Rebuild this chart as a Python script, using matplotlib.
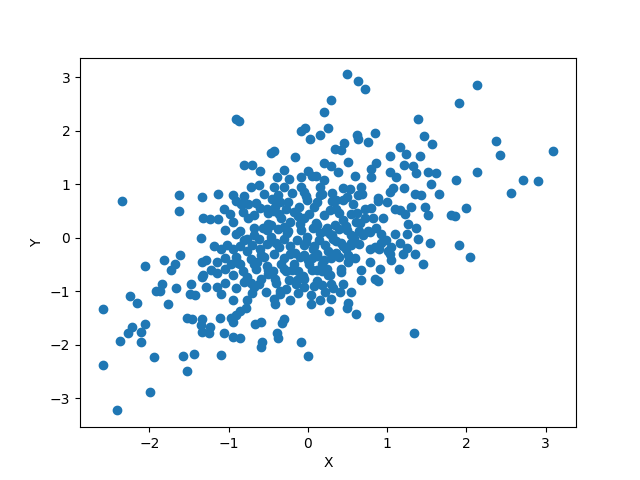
import matplotlib
matplotlib.use("Agg")
import matplotlib.pyplot as plt

# outer and mid-density points
x_outer = [
 0.49,0.63,0.72,0.29,1.39,1.47,1.57,1.16,1.24,1.04,1.41,0.85,0.76,0.62,0.63,0.46,0.34,0.42,0.51,0.25,
 0.86,0.80,1.22,1.33,1.04,1.11,1.37,1.52,1.62,0.29,0.38,0.59,0.80,
 -0.91,-0.87,-0.09,-0.04,0.03,0.16,0.20,-0.47,-0.43,-0.16,-0.80,-0.70,0.20,-0.39,-0.24,-0.09,0.05,0.10,0.20,
 2.14,1.91,2.38,2.43,3.10,2.14,1.87,2.72,2.91,2.56,2.00,1.86,1.91,2.05,
 -2.34,-1.63,-1.63,-1.34,-1.32,-1.35,-1.61,-1.81,-1.68,-1.73,-2.06,-1.33,-1.34,-1.84,-1.91,-1.86,-1.66,-1.48,-1.49,-1.42,-1.77,-2.24,-2.16,-2.59,
 -1.52,-1.46,-1.34,-1.35,-1.33,-2.22,-2.27,-2.11,-2.05,-2.37,-2.10,-1.94,-1.57,-1.43,-1.53,-2.59,-1.99,-2.41,
 -1.23,-1.25,-1.11,-0.97,-0.91,-0.85,-0.78,-0.94,-1.06,-0.94,-0.85,-0.66,-0.59,-0.58,-0.59,-0.30,-0.33,-0.39,-0.38,-0.09,0.00,-1.09,-0.41,0.04,
 0.27,0.49,0.61,0.90,1.34,
 0.89,1.04,1.08,1.22,1.35,1.43,1.65,1.56,1.30,1.48,1.52,1.27,1.37,1.39,1.54,1.35,1.46,1.15,1.05,1.01,0.91,0.85,0.89,0.67,0.54,0.41,0.44,0.29,0.32,0.29,0.51,
 0.42,0.51,0.54,0.78,0.78,0.61,0.72,0.82,0.95,0.92,0.99,1.10,1.16,1.05,1.20,1.04,0.92,1.10,1.16,1.23,0.72,0.63,0.53,0.44,0.67,0.57,0.35,0.34,0.28,0.35,
 0.42,0.54,0.29,0.67,0.78,0.51,0.42,0.25,1.81,
]
y_outer = [
 3.05,2.92,2.77,2.58,2.22,1.89,1.74,1.70,1.57,1.53,1.53,1.96,1.79,1.91,1.85,1.76,1.66,1.63,1.42,2.04,
 1.40,1.29,1.35,1.33,1.23,1.14,1.20,1.23,1.20,1.33,1.23,1.16,1.14,
 2.22,2.17,2.00,2.04,1.85,1.91,2.34,1.59,1.61,1.50,1.35,1.35,1.40,1.14,1.10,1.14,1.16,1.16,1.07,
 2.86,2.52,1.81,1.55,1.61,1.23,1.08,1.08,1.05,0.84,0.56,0.41,-0.13,-0.36,
 0.69,0.79,0.49,0.75,0.36,0.00,-0.32,-0.41,-0.50,-0.60,-0.54,-0.45,-0.73,-0.86,-0.99,-0.99,-0.95,-0.86,-1.05,-1.08,-1.25,-1.10,-1.23,-1.33,
 -1.50,-1.53,-1.53,-1.63,-1.76,-1.68,-1.79,-1.76,-1.61,-1.93,-1.96,-2.24,-2.22,-2.17,-2.49,-2.39,-2.88,-3.23,
 -1.68,-1.79,-1.50,-1.50,-1.44,-1.38,-1.31,-1.57,-1.79,-1.85,-1.87,-1.61,-1.57,-1.96,-2.04,-1.53,-1.59,-1.79,-1.87,-1.96,-2.21,-2.19,-1.25,-1.25,
 -1.38,-1.31,-1.42,-1.48,-1.79,
 0.69,0.86,0.92,0.92,0.82,0.80,0.82,1.01,0.58,0.58,0.43,0.26,0.17,-0.02,-0.11,-0.30,-0.49,-0.58,-0.41,-0.26,-0.58,-0.77,-0.82,-0.79,-1.01,-1.01,-0.86,-0.86,-0.95,-1.14,-1.23,
 -0.58,-0.32,-0.13,-0.21,0.11,0.30,0.36,0.36,0.36,0.06,-0.04,0.06,-0.11,-0.17,-0.30,-0.30,-0.11,0.54,0.52,0.45,0.54,0.80,0.90,0.92,0.95,0.62,0.54,0.24,0.06,-0.07,
 -0.11,-0.11,-0.39,-0.60,-0.45,-0.45,-0.64,-0.69,0.43,
]

# dense core points (estimated from the solid blob in the reference)
x_core = [
 -0.72,-0.62,-0.43,-0.30,-0.09,0.16,-1.13,-1.06,-0.84,-0.75,-0.65,-0.52,-0.43,-0.28,-0.11,-0.01,0.11,
 -1.23,-1.13,-0.94,-0.75,-0.56,-0.47,-0.34,-0.22,-0.05,0.11,0.24,
 -0.90,-0.77,-0.62,-0.47,-0.30,-0.14,-0.01,0.14,
 -1.10,-0.94,-0.77,-0.59,-0.43,-0.22,-0.05,0.11,
 -1.28,-1.15,-0.97,-0.85,-0.68,-0.52,-0.34,-0.18,0.01,0.18,
 -1.32,-1.15,-0.94,-0.77,-0.59,-0.41,-0.24,-0.05,0.11,
 -1.28,-1.15,-0.91,-0.68,-0.53,-0.27,-0.05,0.04,
 -0.94,-0.77,-0.43,-0.22,0.16,
 -0.95,-0.80,-0.55,-0.38,-0.20,-0.02,0.18,0.30,
 -0.98,-0.82,-0.68,-0.50,-0.36,-0.18,0.02,0.20,0.40,0.55,
 -1.05,-0.85,-0.68,-0.52,-0.38,-0.25,-0.08,0.06,0.22,0.40,0.50,0.65,
 -1.18,-1.02,-0.85,-0.70,-0.52,-0.36,-0.22,-0.05,0.08,0.22,0.45,0.65,0.85,
 -1.05,-0.90,-0.72,-0.55,-0.30,-0.10,0.05,0.20,0.40,0.60,
 -1.22,-1.05,-0.82,-0.65,-0.50,-0.30,-0.12,0.05,0.18,
 -1.05,-0.80,-0.62,-0.40,-0.15,0.18,
 -1.10,-0.70,-0.35,-0.12,0.22,
 -0.60,-0.30,0.00,-0.90,-0.35,0.30,0.45,0.55,0.70,1.25,1.25,0.90,
]
y_core = [
 0.95,0.99,0.95,0.95,0.95,0.95,0.82,0.54,0.62,0.62,0.64,0.54,0.49,0.54,0.58,0.71,0.67,
 0.34,0.34,0.30,0.36,0.17,0.24,0.36,0.30,0.36,0.24,0.17,
 0.06,-0.02,-0.02,-0.07,-0.02,-0.04,0.02,-0.04,
 -0.21,-0.21,-0.26,-0.32,-0.30,-0.30,-0.32,-0.30,
 -0.41,-0.45,-0.50,-0.49,-0.50,-0.54,-0.50,-0.49,-0.49,-0.50,
 -0.69,-0.67,-0.69,-0.73,-0.77,-0.77,-0.79,-0.77,-0.82,
 -0.92,-0.92,-0.95,-0.92,-1.01,-0.97,-0.92,-1.07,
 -1.16,-1.16,-1.14,-1.16,-1.16,
 0.80,0.78,0.82,0.79,0.83,0.78,0.81,0.84,
 0.45,0.47,0.43,0.46,0.44,0.48,0.45,0.42,0.46,0.44,
 0.15,0.13,0.17,0.14,0.16,0.12,0.15,0.18,0.13,0.16,0.14,0.12,
 -0.15,-0.13,-0.16,-0.14,-0.12,-0.17,-0.15,-0.13,-0.16,-0.14,-0.15,-0.12,-0.18,
 -0.38,-0.36,-0.40,-0.37,-0.39,-0.36,-0.38,-0.41,-0.37,-0.39,
 -0.60,-0.58,-0.62,-0.59,-0.61,-0.58,-0.62,-0.60,-0.63,
 -0.85,-0.83,-0.87,-0.84,-0.86,-0.88,
 -1.05,-1.03,-1.06,-1.04,-1.02,
 1.25,1.27,1.24,0.68,0.66,0.69,0.70,0.05,0.04,0.06,-0.20,-0.22,
]

# innermost fill of the solid centre
x_fill = [
 -0.45,-0.25,-0.05,0.15,0.35,0.50,0.68,0.88,
 -0.60,-0.42,-0.12,0.08,0.28,0.45,0.62,0.80,1.00,
 -0.50,-0.30,-0.10,0.10,0.30,0.48,0.66,0.86,
 -0.68,-0.46,-0.26,-0.02,0.15,0.32,0.58,0.76,
 -0.80,-0.60,-0.40,-0.16,0.06,0.26,0.48,
 -0.88,-0.64,-0.44,-0.20,0.00,0.24,0.36,
 -0.72,-0.50,-0.28,-0.06,0.12,
 -0.35,-0.14,0.08,0.28,0.12,
]
y_fill = [
 0.72,0.66,0.85,0.80,0.70,0.76,0.82,0.74,
 0.55,0.58,0.40,0.58,0.52,0.32,0.46,0.55,0.66,
 0.25,0.20,0.26,0.28,0.05,0.22,0.28,0.18,
 0.05,0.02,0.08,-0.08,0.08,-0.02,0.00,0.12,
 -0.05,-0.22,-0.10,-0.28,-0.22,-0.25,-0.22,
 -0.48,-0.45,-0.62,-0.60,-0.42,-0.58,-0.28,
 -0.85,-0.68,-0.62,-0.72,-0.60,
 -1.00,-0.80,-0.90,-0.70,-0.35,
]

x_vals = x_outer + x_core + x_fill
y_vals = y_outer + y_core + y_fill

fig, ax = plt.subplots(figsize=(6.4, 4.8), dpi=100)
ax.scatter(x_vals, y_vals)
ax.set_xlabel('X')
ax.set_ylabel('Y')
fig.savefig('out.png')
